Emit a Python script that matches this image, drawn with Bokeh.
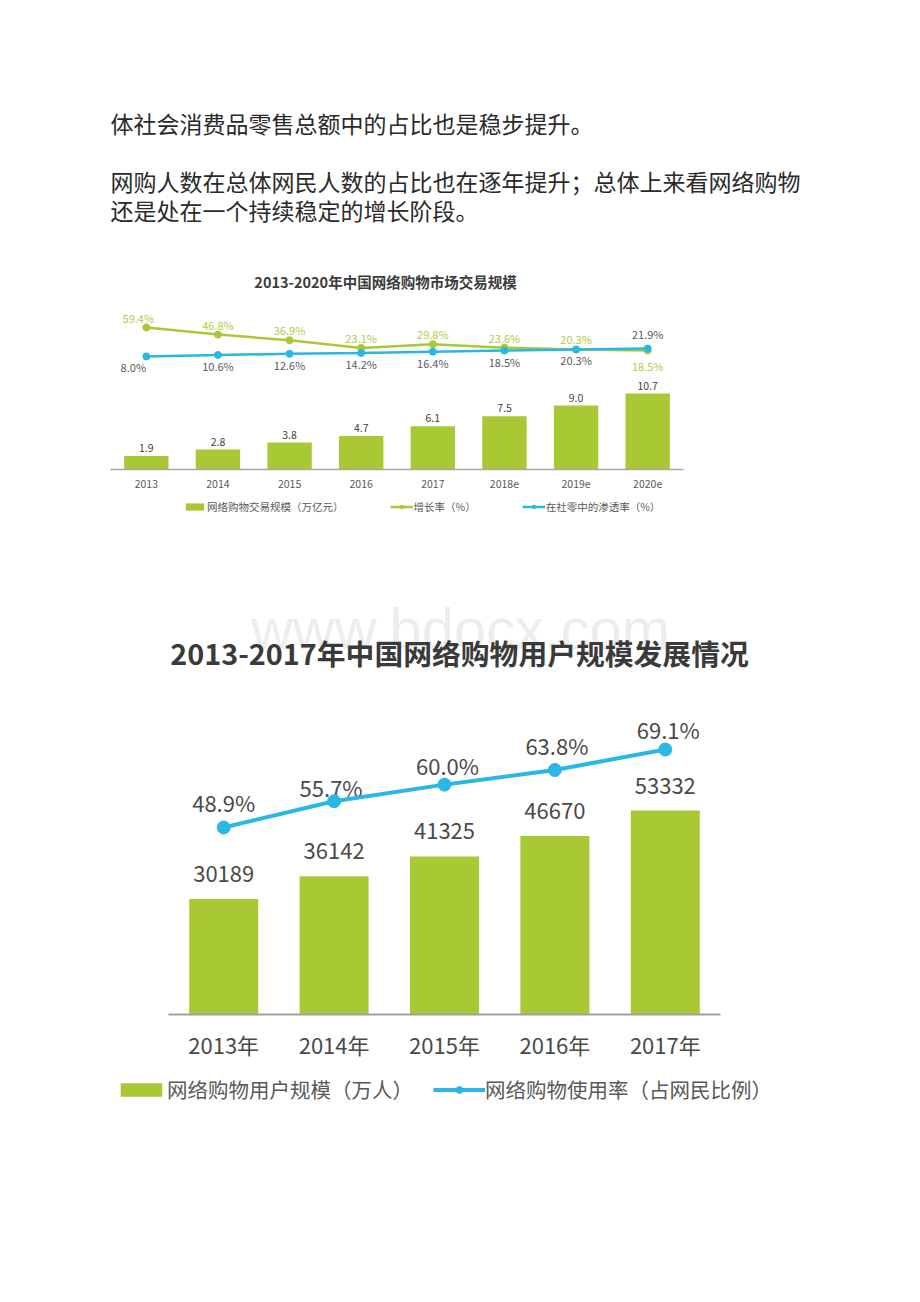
from bokeh.plotting import figure
from bokeh.models import (Range1d, FixedTicker, Legend, LegendItem, ColumnDataSource,
                          LinearAxis)
from bokeh.embed import file_html
from bokeh.resources import INLINE
from bokeh.core.properties import value

# ---------------- data ----------------
paragraph_lines = [
    "体社会消费品零售总额中的占比也是稳步提升。",
    "网购人数在总体网民人数的占比也在逐年提升；总体上来看网络购物",
    "还是处在一个持续稳定的增长阶段。",
]

c1_title = "2013-2020年中国网络购物市场交易规模"
c1_years = ["2013", "2014", "2015", "2016", "2017", "2018e", "2019e", "2020e"]
c1_scale = [1.9, 2.8, 3.8, 4.7, 6.1, 7.5, 9.0, 10.7]
c1_growth = [59.4, 46.8, 36.9, 23.1, 29.8, 23.6, 20.3, 18.5]
c1_penetration = [8.0, 10.6, 12.6, 14.2, 16.4, 18.5, 20.3, 21.9]
c1_series = ["网络购物交易规模（万亿元）", "增长率（%）", "在社零中的渗透率（%）"]

c2_title = "2013-2017年中国网络购物用户规模发展情况"
c2_years = ["2013年", "2014年", "2015年", "2016年", "2017年"]
c2_users = [30189, 36142, 41325, 46670, 53332]
c2_rate = [48.9, 55.7, 60.0, 63.8, 69.1]
c2_series = ["网络购物用户规模（万人）", "网络购物使用率（占网民比例）"]

watermark = "www.bdocx.com"

# ---------------- style ----------------
FONT = "Noto Sans CJK SC"
GREEN = "#a8c934"
GREEN_TXT = "#b0cc45"
BLUE = "#2ab7e4"
DARK = "#404040"
MID = "#595959"

# plot frame in page pixels
FL, FR, FT, FB = 0, 912, 0, 1128
BOTTOM_BORDER = 102

# label offsets (px)
c1_growth_dx = [-8, 0, 0, 0, 0, 0, 0, 0]
c1_growth_dy = [-10, -10, -10, -10, -10, -10, -10, 15]
c1_pen_dx = [-13, 0, 0, 0, 0, 0, 0, 0]
c1_pen_dy = [11, 11, 11, 11, 11, 11, 11, -15]
c2_rate_dx = [0, -3, 3, 2, 3]
c2_rate_dy = [-26, -14, -20, -25, -21]


def lin_range(v_a, px_a, v_b, px_b, px_start, px_end):
    """Range whose start/end sit at the given pixels, given two anchor (value, pixel) pairs."""
    k = (v_b - v_a) / (px_b - px_a)
    return Range1d(v_a + (px_start - px_a) * k, v_a + (px_end - px_a) * k)


x1 = list(range(len(c1_years)))
x2 = list(range(len(c2_years)))
n1, n2 = len(c1_years), len(c2_years)

p = figure(width=FR - FL, height=(FB - FT) + BOTTOM_BORDER,
           x_range=Range1d(FL, FR), y_range=Range1d(FB, FT),
           x_axis_location=None, y_axis_location=None, toolbar_location=None,
           output_backend="svg", min_border_left=0, min_border_right=0,
           min_border_top=0, min_border_bottom=BOTTOM_BORDER, outline_line_color=None)
p.grid.visible = False

p.extra_x_ranges = {
    "x1": lin_range(-0.5, 110, n1 - 0.5, 683, FL, FR),
    "x2": lin_range(-0.5, 168, n2 - 0.5, 720, FL, FR),
}
p.extra_y_ranges = {
    "y1": lin_range(0, 469, 10.7, 393, FB, FT),
    "p1": lin_range(59.4, 327, 18.5, 350, FB, FT),
    "y2": lin_range(0, 1014, 53332, 810, FB, FT),
    "p2": lin_range(48.9, 827, 69.1, 749, FB, FT),
}

# ---------------- paragraph text ----------------
p.text(x=[110, 110, 110], y=[122, 180, 209], text=paragraph_lines,
       text_font=value(FONT), text_font_size="23px", text_baseline="middle",
       text_color="#2a2a2a")

# ---------------- chart 1 ----------------
ax1 = LinearAxis(x_range_name="x1", y_range_name="y1", fixed_location=0,
                 bounds=(-0.5, n1 - 0.5), ticker=FixedTicker(ticks=x1),
                 major_label_overrides={i: y for i, y in enumerate(c1_years)},
                 major_tick_out=0, major_tick_in=0, minor_tick_out=0, minor_tick_in=0,
                 axis_line_color="#a6a6a6", axis_line_width=1.5,
                 major_label_text_font=FONT, major_label_text_font_size="10.5px",
                 major_label_text_color=MID, major_label_standoff=10)
p.add_layout(ax1, "below")

p.text(x=[385], y=[281], text=[c1_title],
       text_font=value(FONT), text_font_size="14.5px", text_font_style="bold",
       text_align="center", text_baseline="middle", text_color="#3c3c3c")

bars_b = p.vbar(x=x1, top=c1_scale, bottom=0, width=0.62, fill_color=GREEN, line_color=None,
                x_range_name="x1", y_range_name="y1")
p.text(x=x1, y=c1_scale, text=[f"{v:.1f}" for v in c1_scale], y_offset=-8,
       x_range_name="x1", y_range_name="y1",
       text_font=value(FONT), text_font_size="10.5px", text_align="center",
       text_baseline="middle", text_color=DARK)

g_line = p.line(x1, c1_growth, x_range_name="x1", y_range_name="p1", line_color=GREEN, line_width=2.5)
g_pts = p.scatter(x1, c1_growth, x_range_name="x1", y_range_name="p1", size=7,
                  fill_color=GREEN, line_color=GREEN)
b_line = p.line(x1, c1_penetration, x_range_name="x1", y_range_name="p1", line_color=BLUE, line_width=2.5)
b_pts = p.scatter(x1, c1_penetration, x_range_name="x1", y_range_name="p1", size=7,
                  fill_color=BLUE, line_color=BLUE)

src_g = ColumnDataSource(dict(x=x1, y=c1_growth, t=[f"{v:.1f}%" for v in c1_growth],
                              dx=c1_growth_dx, dy=c1_growth_dy))
p.text(x="x", y="y", text="t", x_offset="dx", y_offset="dy", source=src_g,
       x_range_name="x1", y_range_name="p1", text_font=value(FONT), text_font_size="11px",
       text_align="center", text_baseline="middle", text_color=GREEN_TXT)
src_p = ColumnDataSource(dict(x=x1, y=c1_penetration, t=[f"{v:.1f}%" for v in c1_penetration],
                              dx=c1_pen_dx, dy=c1_pen_dy))
p.text(x="x", y="y", text="t", x_offset="dx", y_offset="dy", source=src_p,
       x_range_name="x1", y_range_name="p1", text_font=value(FONT), text_font_size="11px",
       text_align="center", text_baseline="middle", text_color=MID)

leg_b = Legend(items=[LegendItem(label=c1_series[0], renderers=[bars_b]),
                      LegendItem(label=c1_series[1], renderers=[g_line, g_pts]),
                      LegendItem(label=c1_series[2], renderers=[b_line, b_pts])],
               orientation="horizontal", location=(183 - FL, FB - 514),
               glyph_width=23, glyph_height=9, label_standoff=1, spacing=46,
               padding=0, margin=0, border_line_color=None, background_fill_alpha=0,
               label_text_font=FONT, label_text_font_size="10.5px",
               label_text_color=MID, label_height=12)
p.add_layout(leg_b, "center")

# ---------------- chart 2 ----------------
ax2 = LinearAxis(x_range_name="x2", y_range_name="y2", fixed_location=0,
                 bounds=(-0.5, n2 - 0.5), ticker=FixedTicker(ticks=x2),
                 major_label_overrides={i: y for i, y in enumerate(c2_years)},
                 major_tick_out=0, major_tick_in=0, minor_tick_out=0, minor_tick_in=0,
                 axis_line_color="#a0a0a0", axis_line_width=2,
                 major_label_text_font=FONT, major_label_text_font_size="22px",
                 major_label_text_color="#4a4a4a", major_label_standoff=13)
p.add_layout(ax2, "below")

p.text(x=[460], y=[628], text=[watermark],
       text_font=value("Liberation Sans"), text_font_size="58px",
       text_align="center", text_baseline="middle", text_color="#ededed")
p.text(x=[459], y=[652], text=[c2_title],
       text_font=value(FONT), text_font_size="28.8px", text_font_style="bold",
       text_align="center", text_baseline="middle", text_color="#3a3a3a")

bars_c = p.vbar(x=x2, top=c2_users, bottom=0, width=0.625, fill_color=GREEN, line_color=None,
                x_range_name="x2", y_range_name="y2")
p.text(x=x2, y=c2_users, text=[str(v) for v in c2_users], y_offset=-25,
       x_range_name="x2", y_range_name="y2",
       text_font=value(FONT), text_font_size="22px", text_align="center",
       text_baseline="middle", text_color="#4a4a4a")
src_r = ColumnDataSource(dict(x=x2, y=c2_rate, t=[f"{v:.1f}%" for v in c2_rate],
                              dx=c2_rate_dx, dy=c2_rate_dy))
p.text(x="x", y="y", text="t", x_offset="dx", y_offset="dy", source=src_r,
       x_range_name="x2", y_range_name="p2", text_font=value(FONT), text_font_size="22px",
       text_align="center", text_baseline="middle", text_color="#4a4a4a")
r_line = p.line(x2, c2_rate, x_range_name="x2", y_range_name="p2", line_color=BLUE, line_width=4)
r_pts = p.scatter(x2, c2_rate, x_range_name="x2", y_range_name="p2", size=13,
                  fill_color=BLUE, line_color=BLUE)

leg_c = Legend(items=[LegendItem(label=c2_series[0], renderers=[bars_c]),
                      LegendItem(label=c2_series[1], renderers=[r_line, r_pts])],
               orientation="horizontal", location=(115 - FL, FB - 1104),
               glyph_width=52, glyph_height=17, label_standoff=0, spacing=20,
               padding=0, margin=0, border_line_color=None, background_fill_alpha=0,
               label_text_font=FONT, label_text_font_size="20.5px",
               label_text_color=MID, label_height=20)
p.add_layout(leg_c, "center")

open("out.html", "w").write(file_html(p, INLINE))
